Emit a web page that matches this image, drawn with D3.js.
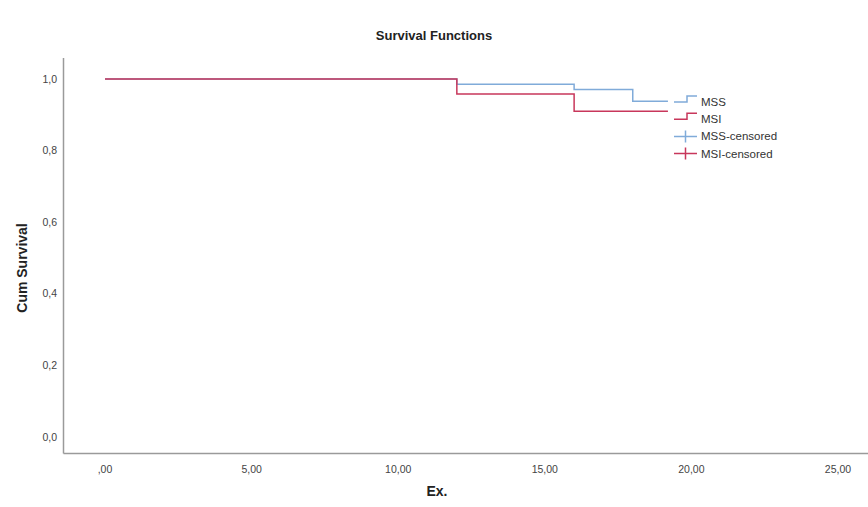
<!DOCTYPE html>
<html>
<head>
<meta charset="utf-8">
<script src="https://cdn.jsdelivr.net/npm/d3@7"></script>
<style>
  body { margin: 0; background: #fff; }
  text { font-family: "Liberation Sans", Arial, sans-serif; }
</style>
</head>
<body>
<div id="chart"></div>
<script>
// Kaplan-Meier step data
var mssTimes = [0, 12, 16, 18, 19.2];
var mssSurv = [1, 0.985, 0.971, 0.938, 0.938];
var msiTimes = [0, 12, 16, 19.2];
var msiSurv = [1, 0.958, 0.91, 0.91];

var xTicks = [0, 5, 10, 15, 20, 25];
var yTicks = [0, 0.2, 0.4, 0.6, 0.8, 1.0];
var legendLabels = ["MSS", "MSI", "MSS-censored", "MSI-censored"];

var svgWidth = 868;
var svgHeight = 507;
var blue = "#80abd9";
var red = "#c8375b";

var svg = d3.select("#chart")
  .append("svg")
  .attr("width", svgWidth)
  .attr("height", svgHeight);

var x = d3.scaleLinear().domain([0, 25]).range([105, 838]);
var y = d3.scaleLinear().domain([0, 1]).range([437, 79]);

// frame: left and bottom axis lines only
var frameLeft = 63.5, frameBottom = 453.5, frameTop = 58;
svg.append("line")
  .attr("x1", frameLeft).attr("x2", frameLeft)
  .attr("y1", frameTop).attr("y2", frameBottom)
  .attr("stroke", "#9a9a9a").attr("stroke-width", 1.5);
svg.append("line")
  .attr("x1", frameLeft).attr("x2", svgWidth)
  .attr("y1", frameBottom).attr("y2", frameBottom)
  .attr("stroke", "#9a9a9a").attr("stroke-width", 1.5);

// tick labels, comma decimals
var fmtY = d => d3.format(".1f")(d).replace(".", ",");
var fmtX = d => (d === 0 ? ",00" : d3.format(".2f")(d).replace(".", ","));

svg.append("g").selectAll("text")
  .data(yTicks)
  .enter()
  .append("text")
  .attr("x", 57)
  .attr("y", d => y(d))
  .attr("dy", "0.35em")
  .attr("text-anchor", "end")
  .attr("font-size", 10.5)
  .attr("fill", "#444")
  .text(fmtY);

svg.append("g").selectAll("text")
  .data(xTicks)
  .enter()
  .append("text")
  .attr("x", d => x(d))
  .attr("y", 469)
  .attr("dy", "0.35em")
  .attr("text-anchor", "middle")
  .attr("font-size", 10.5)
  .attr("fill", "#444")
  .text(fmtX);

// titles
svg.append("text")
  .attr("x", 434).attr("y", 40)
  .attr("text-anchor", "middle")
  .attr("font-size", 13).attr("font-weight", "bold")
  .attr("fill", "#222")
  .text("Survival Functions");

svg.append("text")
  .attr("x", 437).attr("y", 496)
  .attr("text-anchor", "middle")
  .attr("font-size", 14).attr("font-weight", "bold")
  .attr("fill", "#222")
  .text("Ex.");

svg.append("text")
  .attr("transform", "translate(27, 268) rotate(-90)")
  .attr("text-anchor", "middle")
  .attr("font-size", 14).attr("font-weight", "bold")
  .attr("fill", "#222")
  .text("Cum Survival");

// step curves
var line = d3.line()
  .x(d => x(d[0]))
  .y(d => y(d[1]))
  .curve(d3.curveStepAfter);

svg.append("path")
  .datum(d3.zip(mssTimes, mssSurv))
  .attr("d", line)
  .attr("fill", "none")
  .attr("stroke", blue)
  .attr("stroke-width", 1.5);

svg.append("path")
  .datum(d3.zip(msiTimes, msiSurv))
  .attr("d", line)
  .attr("fill", "none")
  .attr("stroke", red)
  .attr("stroke-width", 1.5);

// legend
var legend = svg.append("g").attr("transform", "translate(674, 102)");
var rowH = 17.2;
var colors = [blue, red, blue, red];

legendLabels.forEach(function(label, i) {
  var g = legend.append("g").attr("transform", `translate(0, ${i * rowH})`);
  if (i < 2) {
    g.append("path")
      .attr("d", "M0,0 H13 V-6 H23")
      .attr("fill", "none")
      .attr("stroke", colors[i])
      .attr("stroke-width", 1.5);
  } else {
    g.append("path")
      .attr("d", "M0,0 H23 M11.5,-6 V6")
      .attr("fill", "none")
      .attr("stroke", colors[i])
      .attr("stroke-width", 1.5);
  }
  g.append("text")
    .attr("x", 27)
    .attr("y", 0)
    .attr("dy", "0.35em")
    .attr("font-size", 11.5)
    .attr("fill", "#333")
    .text(label);
});
</script>
</body>
</html>
